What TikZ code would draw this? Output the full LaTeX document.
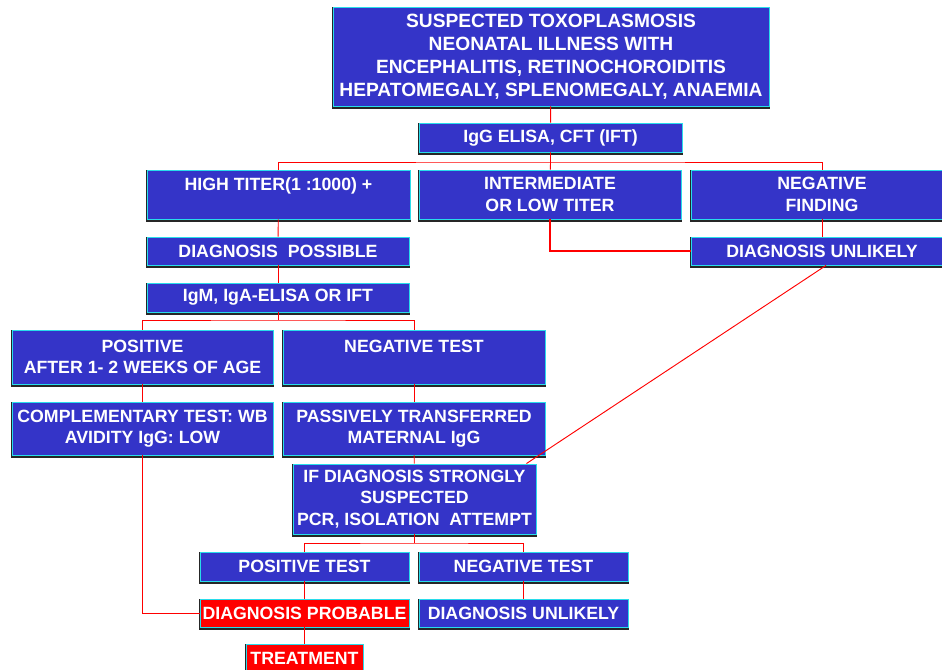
\documentclass[tikz,border=0pt]{standalone}
\usepackage{fontspec}
\setmainfont{Liberation Sans}
\usepackage{xcolor}
\usetikzlibrary{positioning}
\definecolor{boxblue}{RGB}{52,52,200}
\definecolor{boxedge}{RGB}{40,220,235}

\begin{document}
\begin{tikzpicture}[x=0.75pt,y=-0.75pt,
    blk/.style={draw=boxedge, line width=0.7pt, fill=boxblue, text=white,
      font=\bfseries\fontsize{13.3}{16}\selectfont, align=center, inner sep=0pt,
      preaction={draw=black!85, fill=black!85, line width=2pt, transform canvas={yshift=-1.2pt}}},
    redblk/.style={blk, fill=red},
    wh/.style 2 args={minimum width=#1*0.75pt, minimum height=#2*0.75pt},
    link/.style={red, line width=0.7pt}]

                        \useasboundingbox (0,0) rectangle (942,670);
                        \clip (0,0) rectangle (942,670);

                        % \draw boxes
                        \node[blk, wh={436}{99}, font=\bfseries\fontsize{14.4}{17.3}\selectfont] (top) at (551,56.5)
                          {SUSPECTED TOXOPLASMOSIS\\NEONATAL ILLNESS WITH\\ENCEPHALITIS, RETINOCHOROIDITIS\\HEPATOMEGALY, SPLENOMEGALY, ANAEMIA};
                        \node[blk, wh={263}{29}] (igg) at (550.5,137.5) {IgG ELISA, CFT (IFT)};

                        \node[blk, wh={263}{49}] (high) at (278.5,194.5) {HIGH TITER(1 :1000) +\\~};
                        \node[blk, wh={262}{49}] (inter) at (550,194.5) {INTERMEDIATE\\OR LOW TITER};
                        \node[blk, wh={262}{49}] (negf) at (822,194.5) {NEGATIVE\\FINDING};

                        \node[blk, wh={262}{28}] (poss) at (278,251) {DIAGNOSIS\ \ POSSIBLE};
                        \node[blk, wh={262}{28}] (unl) at (822,251) {DIAGNOSIS UNLIKELY};
                        \node[blk, wh={262}{29}] (igm) at (278,297.5) {IgM, IgA-ELISA OR IFT};

                        \node[blk, wh={261}{54}] (pos) at (142.5,357) {POSITIVE\\AFTER 1- 2 WEEKS OF AGE};
                        \node[blk, wh={262}{54}] (neg) at (414,357) {NEGATIVE TEST\\~};
                        \node[blk, wh={261}{53}] (comp) at (142.5,428.5) {COMPLEMENTARY TEST: WB\\AVIDITY IgG: LOW};
                        \node[blk, wh={262}{53}] (pass) at (414,428.5) {PASSIVELY TRANSFERRED\\MATERNAL IgG};

                        \node[blk, wh={243}{70}] (ifd) at (414.5,499) {IF DIAGNOSIS STRONGLY\\SUSPECTED\\PCR, ISOLATION\ \ ATTEMPT};

                        \node[blk, wh={209}{29}] (ptest) at (304.5,566.5) {POSITIVE TEST};
                        \node[blk, wh={209}{29}] (ntest) at (523.5,566.5) {NEGATIVE TEST};
                        \node[redblk, wh={209}{28}] (prob) at (304.5,613) {DIAGNOSIS PROBABLE};
                        \node[blk, wh={209}{28}] (unl2) at (523.5,613) {DIAGNOSIS UNLIKELY};
                        \node[redblk, wh={117}{29}] (treat) at (304.5,658.5) {TREATMENT};

                        % \draw connectors
                        \coordinate (j1) at (550.5,162);
                        \coordinate (j2) at (278,320);
                        \coordinate (j3) at (414.5,543);
                        \draw[link] (top) -- (igg);
                        \draw[link] (igg) -- (j1) -- (inter);
                        \draw[link] (high.north) |- (j1) -| (negf.north);
                        \draw[link] (high) -- (poss);
                        \draw[link] (poss) -- (igm);
                        \draw[link] (igm) -- (j2);
                        \draw[link] (pos.north) |- (j2) -| (neg.north);
                        \draw[link, line width=1.6pt] (inter.south) |- (unl.west);
                        \draw[link] (negf) -- (unl);
                        \draw[link] ([xshift=3pt]unl.south) -- ([xshift=-7.5pt]ifd.north east);
                        \draw[link] (pos) -- (comp);
                        \draw[link] (neg) -- (pass);
                        \draw[link] (pass) -- (ifd);
                        \draw[link] (comp.south) |- (prob.west);
                        \draw[link] (ifd) -- (j3);
                        \draw[link] (ptest.north) |- (j3) -| (ntest.north);
                        \draw[link] (ptest) -- (prob);
                        \draw[link] (ntest) -- (unl2);
                        \draw[link] (prob) -- (treat);

                        \end{tikzpicture}
\end{document}
